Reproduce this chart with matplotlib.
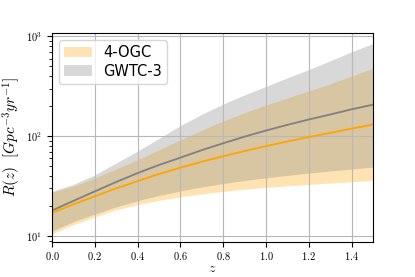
import numpy as np
import matplotlib as mpl
import matplotlib.pyplot as plt

# redshift grid
z = [0.0, 0.1, 0.2, 0.3, 0.4, 0.5, 0.6, 0.7, 0.8, 0.9, 1.0, 1.1, 1.2, 1.3, 1.4, 1.5]

# 4-OGC merger rate: median and 90% band
ogc_med = [17.0, 20.8, 25.0, 30.0, 35.5, 41.8, 48.4, 55.5, 63.0, 71.0, 79.5, 88.5, 98.0, 108.0, 119.0, 131.0]
ogc_lo = [10.5, 13.0, 15.5, 18.3, 20.6, 22.8, 24.7, 26.4, 28.0, 29.4, 30.7, 31.8, 32.9, 33.9, 34.9, 36.0]
ogc_hi = [27.5, 31.5, 38.0, 47.0, 58.0, 73.0, 92.0, 115.0, 142.0, 172.0, 205.0, 242.0, 285.0, 335.0, 400.0, 480.0]

# GWTC-3 merger rate: median and 90% band
gwtc_med = [18.0, 22.5, 28.0, 34.8, 42.7, 51.5, 61.0, 72.5, 85.0, 99.0, 114.0, 130.0, 147.0, 165.0, 186.0, 207.0]
gwtc_lo = [11.2, 13.9, 16.6, 19.6, 22.6, 25.5, 28.3, 31.0, 33.6, 36.0, 38.3, 40.5, 42.7, 44.8, 46.9, 49.0]
gwtc_hi = [28.0, 33.0, 41.0, 54.0, 71.0, 95.0, 128.0, 166.0, 210.0, 260.0, 316.0, 385.0, 465.0, 570.0, 700.0, 850.0]

labels = ['4-OGC', 'GWTC-3']

# configuration
mpl.rcParams['font.family'] = 'cmr10'
mpl.rcParams['mathtext.fontset'] = 'cm'
mpl.rcParams['axes.formatter.use_mathtext'] = True
mpl.rcParams['xtick.labelsize'] = 7.5
mpl.rcParams['ytick.labelsize'] = 7.5
mpl.rcParams['xtick.major.pad'] = 2.5

fig = plt.figure(figsize=(4.15, 2.77), dpi=100)
ax = fig.add_axes([0.1253, 0.128, 0.7735, 0.754])

ax.fill_between(z, ogc_lo, ogc_hi, color='orange', alpha=0.3, linewidth=0, label=labels[0])
ax.fill_between(z, gwtc_lo, gwtc_hi, color='gray', alpha=0.3, linewidth=0, label=labels[1])
ax.plot(z, ogc_med, color='orange', lw=1.3)
ax.plot(z, gwtc_med, color='gray', lw=1.3)

ax.set_yscale('log')
ax.set_xlim(0, 1.5)
ax.set_ylim(8.8, 1090)
ax.grid(True, color='#b8b8b8', lw=0.8)

ax.set_xlabel(r'$z$', fontsize=10, labelpad=1)
ax.set_ylabel(r'$R(z)\ \ [Gpc^{-3}yr^{-1}]$', fontsize=11, labelpad=2)

ax.legend(loc='upper left', prop={'family': 'DejaVu Sans', 'size': 10.5},
          handlelength=1.9, handleheight=0.75, handletextpad=0.75, labelspacing=0.25,
          borderpad=0.35)

plt.savefig('out.png', dpi=100)
